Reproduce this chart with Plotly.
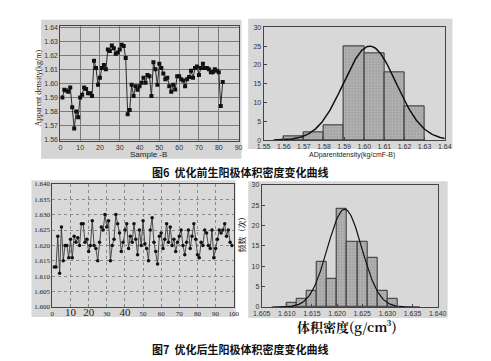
import numpy as np
import plotly.graph_objects as go

W, H = 491, 361

# ---------------- data ----------------
# Fig 6 left: apparent density before optimisation (sample 1..82)
before_values = [1.590, 1.5955, 1.595, 1.594, 1.597, 1.583, 1.568, 1.580, 1.576, 1.590,
                 1.592, 1.597, 1.596, 1.593, 1.593, 1.591, 1.616, 1.611, 1.599, 1.604,
                 1.611, 1.613, 1.610, 1.624, 1.623, 1.627, 1.625, 1.621, 1.622, 1.624,
                 1.6275, 1.6265, 1.618, 1.578, 1.581, 1.599, 1.591, 1.598, 1.5955, 1.598,
                 1.6005, 1.604, 1.6005, 1.606, 1.605, 1.591, 1.615, 1.610, 1.599, 1.614,
                 1.611, 1.607, 1.603, 1.604, 1.598, 1.594, 1.599, 1.5957, 1.605, 1.605,
                 1.603, 1.602, 1.598, 1.603, 1.6045, 1.609, 1.604, 1.611, 1.612, 1.606,
                 1.611, 1.614, 1.611, 1.611, 1.610, 1.608, 1.608, 1.610, 1.609, 1.608,
                 1.584, 1.601]
before_samples = list(range(1, len(before_values) + 1))

# Fig 6 right: histogram
hist6_left = [1.56, 1.57, 1.58, 1.59, 1.60, 1.61, 1.62]
hist6_counts = [1, 2, 4, 25, 23, 18, 9]
hist6_width = 0.01
fit6_mu, fit6_sigma, fit6_peak = 1.6028, 0.0131, 25.0

# Fig 7 left: bulk density after optimisation (sample 1..99)
after_values = [1.613, 1.613, 1.623, 1.611, 1.626, 1.615, 1.620, 1.620, 1.616, 1.622,
                1.616, 1.623, 1.621, 1.6225, 1.620, 1.627, 1.627, 1.621, 1.622, 1.618,
                1.620, 1.628, 1.620, 1.619, 1.615, 1.621, 1.626, 1.625, 1.630, 1.626,
                1.628, 1.615, 1.620, 1.622, 1.630, 1.627, 1.624, 1.618, 1.621, 1.625,
                1.627, 1.619, 1.623, 1.621, 1.627, 1.622, 1.617, 1.625, 1.620, 1.628,
                1.6205, 1.619, 1.615, 1.625, 1.629, 1.621, 1.618, 1.614, 1.623, 1.624,
                1.619, 1.622, 1.627, 1.621, 1.626, 1.620, 1.622, 1.618, 1.621, 1.623,
                1.625, 1.620, 1.617, 1.621, 1.625, 1.619, 1.623, 1.627, 1.622, 1.617,
                1.616, 1.621, 1.620, 1.625, 1.624, 1.620, 1.619, 1.625, 1.616, 1.619,
                1.622, 1.625, 1.624, 1.625, 1.627, 1.623, 1.625, 1.621, 1.620]
after_samples = list(range(1, len(after_values) + 1))

# Fig 7 right: histogram
hist7_left = [1.610, 1.612, 1.614, 1.616, 1.618, 1.620, 1.622, 1.624, 1.626, 1.628, 1.630]
hist7_counts = [1, 2, 4, 11, 7, 24, 16, 16, 12, 4, 2]
hist7_width = 0.002
fit7_mu, fit7_sigma, fit7_peak = 1.6215, 0.0034, 24.0

# tick labels
tl_yticks = [1.56, 1.57, 1.58, 1.59, 1.60, 1.61, 1.62, 1.63, 1.64]
tl_xticks = [0, 10, 20, 30, 40, 50, 60, 70, 80, 90]
tr_xticks = [1.55, 1.56, 1.57, 1.58, 1.59, 1.60, 1.61, 1.62, 1.63, 1.64]
hist_yticks = [0, 5, 10, 15, 20, 25, 30]
bl_yticks = [1.600, 1.605, 1.610, 1.615, 1.620, 1.625, 1.630, 1.635, 1.640]
bl_xticks = [0, 10, 20, 30, 40, 50, 60, 70, 80, 90, 100]
br_xticks = [1.605, 1.610, 1.615, 1.620, 1.625, 1.630, 1.635, 1.640]


# ---------------- helpers ----------------
def px(x):
    return x / W


def py(y):
    return 1 - y / H


def dom_x(a, b):
    return [px(a), px(b)]


def dom_y(top, bottom):
    return [py(bottom), py(top)]


fig = go.Figure()

# top-left line
fig.add_trace(go.Scatter(
    x=before_samples, y=before_values, mode="lines+markers",
    line=dict(color="#2a2a2a", width=1),
    marker=dict(symbol="square", size=4, color="#111"),
    xaxis="x", yaxis="y", showlegend=False))

# top-right histogram
c6 = [l + hist6_width / 2 for l in hist6_left]
fig.add_trace(go.Bar(
    x=c6, y=hist6_counts, width=hist6_width,
    marker=dict(color="#a9a9a9", line=dict(color="#333", width=1),
                pattern=dict(shape=".", fgcolor="#777", bgcolor="#b4b4b4", size=3, solidity=0.3)),
    xaxis="x2", yaxis="y2", showlegend=False))
xs6 = np.linspace(1.555, 1.64, 200)
fig.add_trace(go.Scatter(
    x=xs6, y=fit6_peak * np.exp(-0.5 * ((xs6 - fit6_mu) / fit6_sigma) ** 2),
    mode="lines", line=dict(color="#111", width=1.5),
    xaxis="x2", yaxis="y2", showlegend=False))

# bottom-left line
fig.add_trace(go.Scatter(
    x=after_samples, y=after_values, mode="lines+markers",
    line=dict(color="#3a3a3a", width=0.9),
    marker=dict(symbol="circle", size=3.5, color="#111"),
    xaxis="x3", yaxis="y3", showlegend=False))

# bottom-right histogram
c7 = [l + hist7_width / 2 for l in hist7_left]
fig.add_trace(go.Bar(
    x=c7, y=hist7_counts, width=hist7_width,
    marker=dict(color="#a9a9a9", line=dict(color="#333", width=1),
                pattern=dict(shape=".", fgcolor="#777", bgcolor="#b4b4b4", size=3, solidity=0.3)),
    xaxis="x4", yaxis="y4", showlegend=False))
xs7 = np.linspace(1.607, 1.6365, 200)
fig.add_trace(go.Scatter(
    x=xs7, y=fit7_peak * np.exp(-0.5 * ((xs7 - fit7_mu) / fit7_sigma) ** 2),
    mode="lines", line=dict(color="#111", width=1.2),
    xaxis="x4", yaxis="y4", showlegend=False))

tick_font = dict(family="Arial, Liberation Sans, sans-serif", size=7, color="#333")
serif_tick = dict(family="Liberation Serif, DejaVu Serif, serif", size=7, color="#222")

common = dict(showline=True, mirror=True, linecolor="#444", linewidth=1, zeroline=False)

# rectangles of "scan" background
shapes = []
for (x0, y0, x1, y1, col) in [(25, 8, 233, 150, "#d5d5d5"),
                              (240, 7, 452, 140, "#d8d8d8"),
                              (15, 172, 227, 312, "#d9d9d9"),
                              (240, 173, 447, 313, "#d8d8d8")]:
    shapes.append(dict(type="rect", xref="paper", yref="paper",
                       x0=px(x0), x1=px(x1), y0=py(y1), y1=py(y0),
                       fillcolor=col, line=dict(width=0), layer="below"))

bl_ticktext = []
for v in bl_xticks:
    if v in (10, 20, 40):
        bl_ticktext.append(f"<span style='font-size:11px'>{v}</span>")
    else:
        bl_ticktext.append(str(v))

fig.update_layout(
    width=W, height=H,
    margin=dict(l=0, r=0, t=0, b=0),
    paper_bgcolor="white", plot_bgcolor="rgba(0,0,0,0)",
    bargap=0, showlegend=False,
    shapes=shapes,
    xaxis=dict(domain=dom_x(45, 230), range=[0, 90], anchor="y",
               tickvals=tl_xticks, tickfont=tick_font, showgrid=True,
               gridcolor="#7a7a7a", gridwidth=1, ticks="", **common),
    yaxis=dict(domain=dom_y(14, 132), range=[1.559, 1.641], anchor="x",
               tickvals=tl_yticks, tickformat=".2f", tickfont=tick_font, showgrid=True,
               gridcolor="#7a7a7a", gridwidth=1, ticks="", **common),
    xaxis2=dict(domain=dom_x(256, 444), range=[1.55, 1.64], anchor="y2",
                tickvals=tr_xticks, tickformat=".2f", tickfont=tick_font, showgrid=False,
                ticks="inside", ticklen=3, tickcolor="#444", **common),
    yaxis2=dict(domain=dom_y(15.7, 131), range=[0, 30], anchor="x2",
                tickvals=hist_yticks, tickfont=tick_font, showgrid=False,
                ticks="inside", ticklen=3, tickcolor="#444", **common),
    xaxis3=dict(domain=dom_x(36.7, 225), range=[0, 100], anchor="y3",
                tickvals=bl_xticks, ticktext=bl_ticktext, tickfont=serif_tick, showgrid=True,
                gridcolor="#8a8a8a", gridwidth=1, griddash="dot", ticks="", **common),
    yaxis3=dict(domain=dom_y(175.7, 301.7), range=[1.600, 1.640], anchor="x3",
                tickvals=bl_yticks, tickformat=".3f", tickfont=serif_tick, showgrid=True,
                gridcolor="#8a8a8a", gridwidth=1, griddash="dot", ticks="", **common),
    xaxis4=dict(domain=dom_x(254, 436.7), range=[1.605, 1.640], anchor="y4",
                tickvals=br_xticks, tickformat=".3f", tickfont=tick_font, showgrid=False,
                ticks="inside", ticklen=3, tickcolor="#444", **common),
    yaxis4=dict(domain=dom_y(176.7, 301.7), range=[0, 30], anchor="x4",
                tickvals=hist_yticks, tickfont=tick_font, showgrid=False,
                ticks="inside", ticklen=3, tickcolor="#444", **common),
)

cjk_bold = "Noto Sans CJK SC"
ann = [
    dict(x=px(137), y=py(146), text="Sample -B",
         font=dict(family="Arial, Liberation Sans", size=8, color="#222")),
    dict(x=px(348), y=py(146), text="ADparentdensity(kg/cmF-B)",
         font=dict(family="Arial, Liberation Sans", size=7, color="#222")),
    dict(x=px(22), y=py(78), text="Apparent density(kg/m)", textangle=-90,
         font=dict(family="Liberation Serif, serif", size=8, color="#111")),
    dict(x=px(232), y=py(164), text="<b>图6  优化前生阳极体积密度变化曲线</b>",
         font=dict(family=cjk_bold, size=11, color="#111")),
    dict(x=px(231), y=py(345), text="<b>图7  优化后生阳极体积密度变化曲线</b>",
         font=dict(family=cjk_bold, size=11, color="#111")),
    dict(x=px(343), y=py(322), text="<b>体积密度(g/cm³)</b>",
         font=dict(family="Noto Serif CJK SC, Noto Sans CJK SC, serif", size=13, color="#111")),
    dict(x=px(233), y=py(225), text="频数（次）", textangle=-90,
         font=dict(family=cjk_bold, size=8, color="#222")),
]
for a in ann:
    a.update(xref="paper", yref="paper", showarrow=False, xanchor="center", yanchor="middle")
fig.update_layout(annotations=ann)

fig.write_html("out.html")
